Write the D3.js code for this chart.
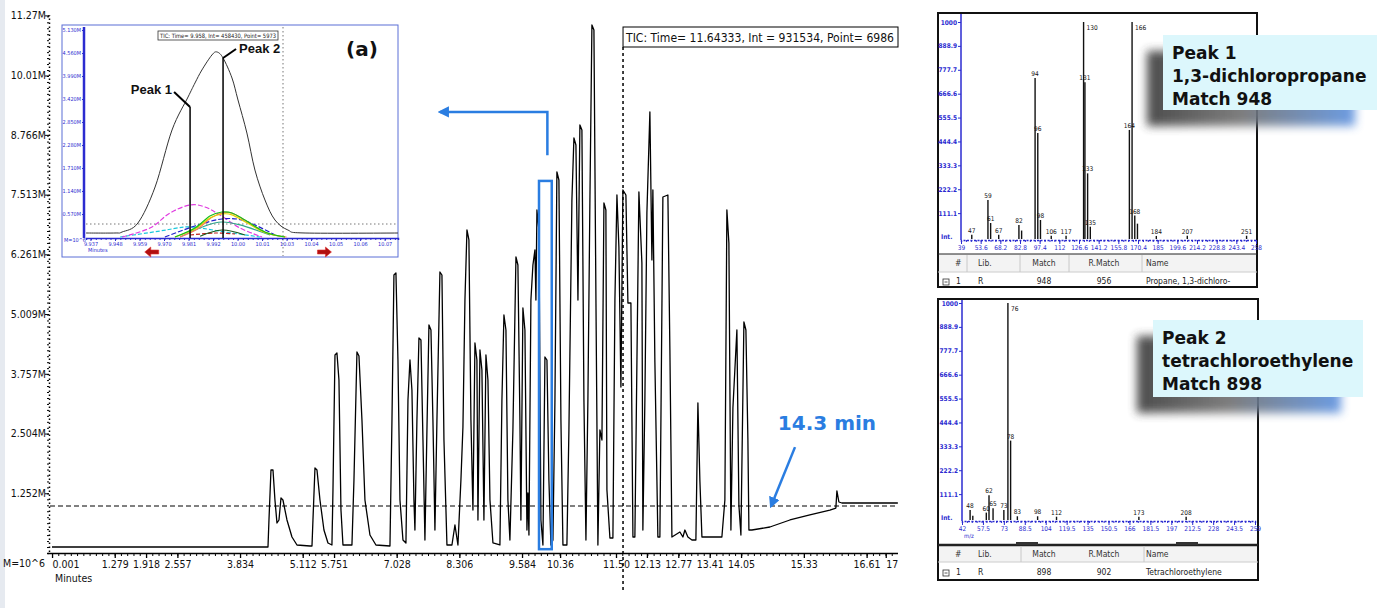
<!DOCTYPE html>
<html lang="en">
<head>
<meta charset="utf-8">
<title>GC-MS TIC with deconvoluted peaks</title>
<script src="https://d3js.org/d3.v7.min.js"></script>
<style>
  body { margin: 0; background: #fff; }
  svg { display: block; }
  .narrow { font-family: "Liberation Sans Narrow", "DejaVu Sans Condensed", "Arial Narrow", sans-serif; }
  .tiny { font-family: "DejaVu Sans Condensed", "DejaVu Sans", sans-serif; }
  .bold { font-family: "DejaVu Sans", Verdana, sans-serif; font-weight: bold; }
</style>
</head>
<body>
<svg width="1377" height="608"></svg>
<script>

// ---------------- main chromatogram data ----------------
var yTickLabels = ["1.252M", "2.504M", "3.757M", "5.009M", "6.261M", "7.513M", "8.766M", "10.01M", "11.27M"];
var xTickLabels = ["0.001", "1.279", "1.918", "2.557", "3.834", "5.112", "5.751", "7.028", "8.306", "9.584",
                   "10.36", "11.50", "12.13", "12.77", "13.41", "14.05", "15.33", "16.61", "17"];

// TIC trace, [minutes, intensity in M]
var tic = [
  [0,0.126],[4.404,0.126],
  [4.424,0.692],[4.465,1.740],[4.506,1.740],[4.546,1.111],[4.587,0.629],[4.628,0.692],[4.669,1.153],[4.709,1.111],[4.791,0.692],[4.893,0.335],[4.995,0.168],[5.260,0.147],[5.301,0.147],
  [5.321,0.692],[5.362,1.782],[5.403,1.740],[5.464,1.111],[5.545,0.482],[5.627,0.210],[5.708,0.168],
  [5.729,1.321],[5.770,4.151],[5.810,4.193],[5.851,3.627],[5.892,0.901],[5.933,0.168],[6.116,0.168],
  [6.157,1.530],[6.218,4.214],[6.259,4.130],[6.320,2.788],[6.381,1.111],[6.483,0.377],[6.605,0.168],[6.891,0.147],
  [6.932,2.788],[6.972,5.828],[7.013,5.870],[7.054,4.046],[7.095,1.111],[7.156,0.273],[7.217,0.210],
  [7.258,3.207],[7.299,4.046],[7.339,3.417],[7.380,1.111],[7.400,0.482],[7.441,2.788],[7.482,4.507],[7.523,4.465],[7.564,2.369],[7.604,0.273],
  [7.645,2.579],[7.686,4.780],[7.727,4.675],[7.767,2.788],[7.808,0.482],[7.849,2.788],[7.910,5.891],[7.951,5.828],[7.992,2.369],[8.053,0.168],
  [8.155,0.168],[8.216,0.587],[8.277,0.168],[8.338,1.530],[8.379,2.641],[8.420,5.304],[8.461,6.772],[8.501,6.562],[8.542,2.788],[8.583,0.901],
  [8.624,4.402],[8.664,4.046],[8.685,0.692],[8.726,4.256],[8.766,3.836],[8.807,0.692],[8.848,4.151],[8.889,3.627],[8.930,1.111],[8.991,0.210],[9.133,0.168],
  [9.174,3.207],[9.215,4.989],[9.256,4.675],[9.296,1.111],[9.337,0.273],[9.398,2.579],[9.460,6.205],[9.500,6.038],[9.541,2.788],[9.561,0.692],
  [9.602,5.136],[9.643,4.675],[9.684,0.482],[9.704,1.258],[9.725,0.377],[9.765,5.304],[9.806,6.038],[9.847,6.352],[9.867,5.304],[9.888,7.191],
  [9.928,6.772],[9.969,0.692],[10.010,0.168],
  [10.051,4.109],[10.092,4.046],[10.132,1.530],[10.173,0.168],[10.214,0.273],[10.255,3.207],[10.295,7.987],[10.336,7.820],[10.377,2.788],[10.418,0.168],
  [10.499,0.168],[10.540,2.579],[10.601,7.400],[10.642,8.700],[10.683,8.553],[10.724,5.304],[10.764,8.973],[10.805,8.868],[10.846,3.207],[10.887,0.273],
  [10.927,3.207],[10.968,7.400],[11.009,11.069],[11.050,10.964],[11.091,5.304],[11.131,0.168],[11.172,2.579],[11.213,2.369],[11.254,7.337],[11.294,7.191],
  [11.315,1.321],[11.376,0.314],[11.437,0.314],
  [11.478,5.304],[11.519,7.505],[11.559,6.415],[11.600,3.480],[11.641,7.610],[11.702,7.505],[11.743,5.241],[11.804,5.241],[11.845,0.335],[11.885,0.335],
  [11.967,7.568],[12.028,6.080],[12.048,0.482],[12.089,3.207],[12.130,7.128],[12.191,9.245],[12.232,6.143],[12.252,7.610],[12.293,4.0],[12.354,0.335],
  [12.395,0.335],[12.456,7.463],[12.558,7.505],[12.599,4.256],[12.640,0.335],[12.803,0.440],[12.864,0.335],[12.905,0.482],[12.966,0.335],[13.048,0.273],
  [13.129,0.273],[13.170,3.145],[13.211,1.5],[13.252,0.335],[13.659,0.335],[13.720,1.111],[13.761,7.191],[13.802,6.5],[13.843,0.482],[13.884,3.040],
  [13.965,4.675],[14.006,1.0],[14.047,0.377],[14.108,4.843],[14.149,4.675],[14.189,2.411],[14.210,0.482],[14.271,0.482],
  [14.638,0.545],[15.046,0.692],[15.453,0.797],[15.861,0.901],[15.983,0.943],[16.004,1.300],[16.045,1.069],[16.106,1.048],[17.247,1.048]
];
var thresholdM = 0.985;
var cursor = {time: 11.64333, intensity: 931534, point: 6986};
var zoomWindow = [9.93, 10.19, 0.08, 7.8];   // t0, t1, low, high
var endTime = 14.3;

// ---------------- inset (zoom on the boxed peak) ----------------
var insetXTicks = [9.937, 9.948, 9.959, 9.970, 9.981, 9.992, 10.003, 10.014, 10.025, 10.036, 10.047, 10.058, 10.069];
var insetYTicks = [0.570, 1.140, 1.710, 2.280, 2.850, 3.420, 3.990, 4.560, 5.130];
var insetTic = [[9.9350,0.099],[9.9480,0.099],[9.9512,0.124],[9.9583,0.347],[9.9660,1.239],[9.9736,2.652],[9.9808,3.470],
  [9.9839,3.817],[9.9870,4.139],[9.9915,4.511],[9.9938,4.585],[9.9965,4.436],[10.0005,3.941],[10.0032,3.395],[10.0072,2.577],
  [10.0108,1.660],[10.0153,0.917],[10.0198,0.421],[10.0256,0.173],[10.0333,0.099],[10.0750,0.099]];
var ionMagenta = [[9.9512,0],[9.9637,0.223],[9.9727,0.595],[9.9817,0.793],[9.9884,0.743],[9.9951,0.545],[10.0041,0.223],[10.0140,0]];
var ionGreen   = [[9.9749,0],[9.9839,0.223],[9.9906,0.520],[9.9960,0.620],[10.0005,0.595],[10.0063,0.421],[10.0153,0.124],[10.0243,0]];
var ionYellow  = [[9.9749,0],[9.9839,0.20],[9.9906,0.47],[9.9960,0.57],[10.0005,0.55],[10.0063,0.38],[10.0153,0.11],[10.0243,0]];
var ionOrange  = [[9.9772,0],[9.9850,0.20],[9.9915,0.49],[9.9965,0.60],[10.0010,0.58],[10.0070,0.39],[10.0160,0.10],[10.0250,0]];
var ionBlue    = [[9.9704,0],[9.9839,0.273],[9.9960,0.446],[10.0063,0.40],[10.0198,0.05]];
var ionCyan    = [[9.9503,0],[9.9682,0.149],[9.9794,0.248],[9.9862,0.223],[9.9974,0.124],[10.0131,0]];
var ionTeal    = [[9.9772,0],[9.9884,0.273],[9.9960,0.372],[10.0041,0.30],[10.0176,0.05]];
var ionRed     = [[9.9817,0.05],[9.9929,0.099],[10.0019,0.074]];
var ionDark    = [[9.9862,0.02],[9.9960,0.173],[10.0063,0.05]];
var insetPeaks = [{name: "Peak 1", t: 9.9817, v: 3.22}, {name: "Peak 2", t: 9.9965, v: 4.436}];
var insetCursor = {time: 9.958, intensity: 458430, point: 5973};

// ---------------- mass spectra ----------------
var specYTicks = ["111.1", "222.2", "333.3", "444.4", "555.5", "666.6", "777.7", "888.9", "1000"];
var spec1XTicks = [39, 53.6, 68.2, 82.8, 97.4, 112, 126.6, 141.2, 155.8, 170.4, 185, 199.6, 214.2, 228.8, 243.4, 258];
var spec1Peaks = [[47,10,"47"],[59,172,"59"],[61,65,"61"],[67,10,"67"],[82,56,"82"],[84,30,""],[94,740,"94"],[96,484,"96"],
  [98,79,"98"],[106,6,"106"],[117,6,"117"],[130,1000,"130"],[131,720,"131"],[133,296,"133"],[135,48,"135"],
  [164,498,"164"],[166,1000,"166"],[168,100,"168"],[170,62,""],[184,5,"184"],[207,6,"207"],[251,6,"251"]];
var spec2XTicks = [42, 57.5, 73, 88.5, 104, 119.5, 135, 150.5, 166, 181.5, 197, 212.5, 228, 243.5, 259];
var spec2Peaks = [[48,37,"48"],[50,10,""],[60,25,"60"],[62,106,"62"],[65,45,"65"],[73,37,"73"],[76,1000,"76"],[78,360,"78"],
  [83,8,"83"],[98,8,"98"],[112,6,"112"],[173,6,"173"],[208,6,"208"]];
var hitHeader = ["#", "Lib.", "Match", "R.Match", "Name"];
var hit1 = ["1", "R", "948", "956", "Propane, 1,3-dichloro-"];
var hit2 = ["1", "R", "898", "902", "Tetrachloroethylene"];
var callout1 = ["Peak 1", "1,3-dichloropropane", "Match 948"];
var callout2 = ["Peak 2", "tetrachloroethylene", "Match 898"];

// =====================================================
var svg = d3.select("svg");
var defs = svg.append("defs");
var blue = "#2a7de1", axisBlue = "#2b2bd0";

defs.append("marker").attr("id", "arrowBlue")
    .attr("viewBox", "0 0 10 10").attr("refX", 8).attr("refY", 5)
    .attr("markerWidth", 4.5).attr("markerHeight", 4.5).attr("orient", "auto-start-reverse")
  .append("path").attr("d", "M0,0 L10,5 L0,10 z").attr("fill", blue);

defs.append("filter").attr("id", "blur").attr("x", "-20%").attr("y", "-20%").attr("width", "140%").attr("height", "140%")
  .append("feGaussianBlur").attr("stdDeviation", 5);
var sg = defs.append("linearGradient").attr("id", "shadowGrad");
sg.append("stop").attr("offset", "0").attr("stop-color", "#3a3a3a");
sg.append("stop").attr("offset", "0.45").attr("stop-color", "#707070");
sg.append("stop").attr("offset", "1").attr("stop-color", "#5d92e0");

// light frame strip at the left
svg.append("rect").attr("x", 0).attr("y", 0).attr("width", 5).attr("height", 608).attr("fill", "#e6eaf0");

// ---------------- main chart ----------------
var x = d3.scaleLinear().domain([0, 17.25]).range([52, 898]);
var y = d3.scaleLinear().domain([0, 11.27]).range([553, 15.4]);
var g = svg.append("g");

// threshold dashed line
g.append("line")
    .attr("x1", 50).attr("x2", x(17.25))
    .attr("y1", y(thresholdM)).attr("y2", y(thresholdM))
    .attr("stroke", "#000").attr("stroke-width", 1).attr("stroke-dasharray", "5,3");

// x axis: minor ticks then labelled ticks
var minor = d3.range(0, 17.25, 0.12778);
g.append("g").attr("class", "narrow")
    .attr("transform", "translate(0,553)")
    .call(d3.axisBottom(x).tickValues(minor).tickSize(3).tickFormat(""))
    .call(function(a) {
      a.select(".domain").attr("stroke-width", 1.5).attr("d", "M48,0.5H898");
      a.selectAll(".tick line").attr("stroke-width", 1);
    });
var xValues = xTickLabels.map(Number);
g.append("g").attr("class", "narrow")
    .attr("transform", "translate(0,553)")
    .call(d3.axisBottom(x).tickValues(xValues).tickSize(5).tickPadding(3)
            .tickFormat(function(d, i) { return xTickLabels[i]; }))
    .call(function(a) {
      a.select(".domain").remove();
      a.selectAll(".tick line").attr("stroke-width", 1.3);
      var txt = a.selectAll(".tick text").attr("font-size", 10.5).attr("fill", "#111")
        .attr("font-family", "'Liberation Sans Narrow','DejaVu Sans Condensed',sans-serif");
      a.select(".tick text").attr("text-anchor", "start");
      d3.select(txt.nodes()[txt.size() - 1]).attr("text-anchor", "start");
    });

// y axis
var yValues = yTickLabels.map(function(s) { return parseFloat(s); });
g.append("g")
    .attr("transform", "translate(49,0)")
    .call(d3.axisLeft(y).tickValues(d3.range(0, 11.3, 0.125)).tickSize(2).tickFormat(""))
    .call(function(a) {
      a.select(".domain").attr("stroke-dasharray", "1.5,2.5").attr("stroke-width", 1.5);
    });
g.append("g")
    .attr("transform", "translate(49,0)")
    .call(d3.axisLeft(y).tickValues(yValues).tickSize(4).tickPadding(-1)
            .tickFormat(function(d, i) { return yTickLabels[i]; }))
    .call(function(a) {
      a.select(".domain").remove();
      a.selectAll(".tick text").attr("font-size", 10.5).attr("fill", "#111")
        .attr("font-family", "'Liberation Sans Narrow','DejaVu Sans Condensed',sans-serif");
    });
g.append("text").attr("class", "narrow").attr("x", 3).attr("y", 567)
    .attr("font-size", 10.5).attr("fill", "#111").text("M=10^6");
g.append("text").attr("class", "narrow").attr("x", 55).attr("y", 582)
    .attr("font-size", 10.5).attr("fill", "#111").text("Minutes");

// TIC trace
var line = d3.line().x(function(d) { return x(d[0]); }).y(function(d) { return y(d[1]); });
g.append("path").datum(tic)
    .attr("d", line).attr("fill", "none")
    .attr("stroke", "#000").attr("stroke-width", 1.3).attr("stroke-linejoin", "round");

// cursor + readout
var cx = x(cursor.time);
g.append("line").attr("x1", cx).attr("x2", cx).attr("y1", 47).attr("y2", 592)
    .attr("stroke", "#000").attr("stroke-width", 1.5).attr("stroke-dasharray", "3,3");
g.append("rect").attr("x", cx).attr("y", 27).attr("width", 898 - cx).attr("height", 20)
    .attr("fill", "#fff").attr("stroke", "#000").attr("stroke-width", 1);
g.append("text").attr("class", "narrow").attr("x", cx + 3).attr("y", 42)
    .attr("font-size", 13).attr("fill", "#111")
    .attr("textLength", 268).attr("lengthAdjust", "spacingAndGlyphs")
    .text("TIC: Time= " + cursor.time + ", Int = " + cursor.intensity + ", Point= " + cursor.point);

// zoom window box and arrow to inset
var zx0 = x(zoomWindow[0]), zx1 = x(zoomWindow[1]);
g.append("rect").attr("x", zx0).attr("y", y(zoomWindow[3]))
    .attr("width", zx1 - zx0).attr("height", y(zoomWindow[2]) - y(zoomWindow[3]))
    .attr("fill", "none").attr("stroke", blue).attr("stroke-width", 2.5);
var zm = (zx0 + zx1) / 2 + 2;
g.append("path")
    .attr("d", "M" + zm + "," + y(8.34) + "V" + y(9.245) + "H" + x(7.91))
    .attr("fill", "none").attr("stroke", blue).attr("stroke-width", 2.5)
    .attr("marker-end", "url(#arrowBlue)");

// 14.3 min annotation
g.append("text").attr("class", "bold").attr("x", x(14.8)).attr("y", y(2.58))
    .attr("font-size", 20).attr("fill", blue).text(endTime + " min");
g.append("line").attr("x1", x(15.15)).attr("y1", y(2.22)).attr("x2", x(14.66)).attr("y2", y(0.98))
    .attr("stroke", blue).attr("stroke-width", 2.5).attr("marker-end", "url(#arrowBlue)");

// ---------------- inset ----------------
var ix = d3.scaleLinear().domain([9.935, 10.075]).range([86, 398]);
var iy = d3.scaleLinear().domain([0, 5.13]).range([237, 30]);
var ig = svg.append("g");
ig.append("rect").attr("x", 62).attr("y", 25).attr("width", 336).attr("height", 232)
    .attr("fill", "#fff").attr("stroke", "#5b6fd6").attr("stroke-width", 1);
ig.append("line").attr("x1", 86).attr("x2", 398).attr("y1", iy(0.322)).attr("y2", iy(0.322))
    .attr("stroke", "#777").attr("stroke-width", 1).attr("stroke-dasharray", "1.5,2.5");
ig.append("line").attr("x1", ix(10.0234)).attr("x2", ix(10.0234)).attr("y1", 27).attr("y2", 256)
    .attr("stroke", "#777").attr("stroke-width", 1).attr("stroke-dasharray", "1.5,2.5");

ig.append("g").attr("transform", "translate(0,238)")
    .call(d3.axisBottom(ix).tickValues(d3.range(9.935, 10.075, 0.0022)).tickSize(2).tickFormat(""))
    .call(function(a) { a.selectAll("path,line").attr("stroke", axisBlue); a.select(".domain").attr("stroke-width", 1.5); });
ig.append("g").attr("transform", "translate(0,238)")
    .call(d3.axisBottom(ix).tickValues(insetXTicks).tickSize(3).tickPadding(1).tickFormat(d3.format(".4r")))
    .call(function(a) {
      a.select(".domain").remove();
      a.selectAll("line").attr("stroke", axisBlue);
      a.selectAll("text").attr("font-size", 5.5).attr("fill", axisBlue).attr("font-family", "DejaVu Sans Condensed, sans-serif");
    });
ig.append("g").attr("transform", "translate(84,0)")
    .call(d3.axisLeft(iy).tickValues(insetYTicks).tickSize(2).tickPadding(1).tickFormat(function(d) { return d3.format(".3f")(d) + "M"; }))
    .call(function(a) {
      a.select(".domain").attr("stroke", axisBlue).attr("stroke-width", 2.5).attr("d", "M0,27V238");
      a.selectAll("line").attr("stroke", axisBlue);
      a.selectAll("text").attr("font-size", 5.5).attr("fill", axisBlue).attr("font-family", "DejaVu Sans Condensed, sans-serif");
    });
ig.append("text").attr("x", 64).attr("y", 242).attr("font-size", 5.5).attr("fill", axisBlue)
    .attr("class", "tiny").text("M=10^6");
ig.append("text").attr("x", 88).attr("y", 252).attr("font-size", 5.5).attr("fill", axisBlue)
    .attr("class", "tiny").text("Minutes");

var icurve = d3.line().curve(d3.curveCardinal).x(function(d) { return ix(d[0]); }).y(function(d) { return iy(d[1]); });
var ions = [
  {d: ionCyan, c: "#18c8dc", dash: "4,2"}, {d: ionMagenta, c: "#e03ce0", dash: "5,2"},
  {d: ionTeal, c: "#2fa58a", dash: null}, {d: ionBlue, c: "#2020c8", dash: "5,2"},
  {d: ionOrange, c: "#ff7a5a", dash: null}, {d: ionYellow, c: "#e2d400", dash: null},
  {d: ionGreen, c: "#18c018", dash: null}, {d: ionRed, c: "#c02020", dash: "4,2"},
  {d: ionDark, c: "#1a5a1a", dash: null}
];
ions.forEach(function(s) {
  ig.append("path").datum(s.d).attr("d", icurve).attr("fill", "none")
    .attr("stroke", s.c).attr("stroke-width", 1.2).attr("stroke-dasharray", s.dash);
});
ig.append("path").datum(insetTic).attr("d", icurve).attr("fill", "none")
    .attr("stroke", "#333").attr("stroke-width", 1);

// peak markers
insetPeaks.forEach(function(p) {
  ig.append("line").attr("x1", ix(p.t)).attr("x2", ix(p.t)).attr("y1", iy(p.v)).attr("y2", 238)
    .attr("stroke", "#000").attr("stroke-width", 1.5);
});
var p1 = insetPeaks[0], p2 = insetPeaks[1];
ig.append("line").attr("x1", ix(p1.t)).attr("y1", iy(p1.v)).attr("x2", ix(p1.t) - 16).attr("y2", iy(p1.v) - 15)
    .attr("stroke", "#000").attr("stroke-width", 2);
ig.append("text").attr("x", ix(p1.t) - 18).attr("y", iy(p1.v) - 13).attr("text-anchor", "end")
    .attr("font-family", "'Liberation Sans', Arial, sans-serif").attr("font-weight", "bold")
    .attr("font-size", 13).attr("fill", "#111").text(p1.name);
ig.append("line").attr("x1", ix(p2.t)).attr("y1", iy(p2.v)).attr("x2", ix(p2.t) + 13).attr("y2", iy(p2.v) - 9)
    .attr("stroke", "#000").attr("stroke-width", 2);
ig.append("text").attr("x", ix(p2.t) + 16).attr("y", iy(p2.v) - 5)
    .attr("font-family", "'Liberation Sans', Arial, sans-serif").attr("font-weight", "bold")
    .attr("font-size", 13).attr("fill", "#111").text(p2.name);

// inset readout
ig.append("rect").attr("x", 158).attr("y", 31).attr("width", 120).attr("height", 9)
    .attr("fill", "#fff").attr("stroke", "#333").attr("stroke-width", 0.8);
ig.append("text").attr("class", "tiny").attr("x", 160).attr("y", 38).attr("font-size", 6)
    .attr("textLength", 116).attr("lengthAdjust", "spacingAndGlyphs").attr("fill", "#222")
    .text("TIC: Time= " + insetCursor.time + ", Int= " + insetCursor.intensity + ", Point= " + insetCursor.point);

// (a)
ig.append("text").attr("class", "bold").attr("x", 346).attr("y", 56).attr("font-size", 20)
    .attr("fill", "#111").text("(a)");

// red scroll arrows
[[ix(9.9645), -1], [ix(10.0420), 1]].forEach(function(a) {
  var ax = a[0], s = a[1];
  ig.append("path")
    .attr("d", "M" + (ax - 7 * s) + ",250h" + (8 * s) + "v-3l" + (6 * s) + ",5l" + (-6 * s) + ",5v-3h" + (-8 * s) + "z")
    .attr("fill", "#b01010").attr("stroke", "#e03030").attr("stroke-width", 0.6);
});

// ---------------- spectra panels ----------------
function drawSpectrum(cfg) {
  var p = svg.append("g");
  var sx = d3.scaleLinear().domain(cfg.xDomain).range(cfg.xRange);
  var sy = d3.scaleLinear().domain([0, 1000]).range([cfg.axisY - 3, cfg.top]);
  p.append("rect").attr("x", cfg.frame[0]).attr("y", cfg.frame[1])
    .attr("width", cfg.frame[2] - cfg.frame[0]).attr("height", cfg.frame[3] - cfg.frame[1])
    .attr("fill", "#fff").attr("stroke", "#111").attr("stroke-width", 2);

  // x axis
  p.append("g").attr("transform", "translate(0," + cfg.axisY + ")")
    .call(d3.axisBottom(sx).tickValues(d3.range(cfg.xDomain[0], cfg.xDomain[1], (cfg.xDomain[1] - cfg.xDomain[0]) / 60))
      .tickSize(2).tickFormat(""))
    .call(function(a) {
      a.selectAll("path,line").attr("stroke", axisBlue);
      a.select(".domain").attr("stroke-width", 1.5).attr("stroke-dasharray", "2,1.5");
    });
  p.append("g").attr("transform", "translate(0," + cfg.axisY + ")")
    .call(d3.axisBottom(sx).tickValues(cfg.xTicks).tickSize(4).tickPadding(1).tickFormat(function(d) { return d; }))
    .call(function(a) {
      a.select(".domain").remove();
      a.selectAll("line").attr("stroke", axisBlue);
      a.selectAll("text").attr("font-size", 6.5).attr("fill", axisBlue).attr("font-family", "DejaVu Sans Condensed, sans-serif");
    });
  // y axis
  var yv = specYTicks.map(Number);
  p.append("g").attr("transform", "translate(" + cfg.xRange[0] + ",0)")
    .call(d3.axisLeft(sy).tickValues(yv).tickSize(3).tickPadding(1).tickFormat(function(d, i) { return specYTicks[i]; }))
    .call(function(a) {
      a.select(".domain").attr("stroke", axisBlue).attr("stroke-width", 1.5)
        .attr("d", "M0," + (cfg.frame[1] + 1) + "V" + cfg.axisY);
      a.selectAll("line").attr("stroke", axisBlue);
      a.selectAll("text").attr("font-size", 6.5).attr("fill", axisBlue).attr("font-weight", "bold")
        .attr("font-family", "DejaVu Sans Condensed, sans-serif");
    });
  p.append("text").attr("x", cfg.frame[0] + 3).attr("y", cfg.axisY - 1).attr("font-size", 6.5)
    .attr("fill", axisBlue).attr("font-weight", "bold").attr("class", "tiny").text("Int.");
  if (cfg.unit) {
    p.append("text").attr("x", cfg.xRange[0] + 2).attr("y", cfg.axisY + 17).attr("font-size", 6)
      .attr("fill", axisBlue).attr("class", "tiny").text(cfg.unit);
  }

  // bars
  p.selectAll(".bar").data(cfg.peaks).enter().append("line")
    .attr("x1", function(d) { return sx(d[0]); }).attr("x2", function(d) { return sx(d[0]); })
    .attr("y1", cfg.axisY - 1).attr("y2", function(d) { return sy(d[1]); })
    .attr("stroke", "#111").attr("stroke-width", 1.4);
  p.selectAll(".lbl").data(cfg.peaks.filter(function(d) { return d[2]; })).enter().append("text")
    .attr("class", "tiny")
    .attr("x", function(d) { return sx(d[0]) + (d[1] > 950 ? 3 : 0); })
    .attr("y", function(d) { return d[1] > 950 ? sy(d[1]) + 8 : sy(d[1]) - 2; })
    .attr("text-anchor", function(d) { return d[1] > 950 ? "start" : "middle"; })
    .attr("font-size", 6.5).attr("fill", "#111").text(function(d) { return d[2]; });

  // hit table
  var t = cfg.table;
  p.append("rect").attr("x", cfg.frame[0] + 1).attr("y", t.top).attr("width", cfg.frame[2] - cfg.frame[0] - 2)
    .attr("height", t.mid - t.top).attr("fill", "#f3f3f3");
  p.append("line").attr("x1", cfg.frame[0]).attr("x2", cfg.frame[2]).attr("y1", t.top).attr("y2", t.top)
    .attr("stroke", "#222").attr("stroke-width", t.thick);
  p.append("line").attr("x1", cfg.frame[0]).attr("x2", cfg.frame[2]).attr("y1", t.mid).attr("y2", t.mid)
    .attr("stroke", "#ccc").attr("stroke-width", 1);
  t.seps.forEach(function(sxp) {
    p.append("line").attr("x1", sxp).attr("x2", sxp).attr("y1", t.top + 1).attr("y2", t.mid)
      .attr("stroke", "#c8c8c8").attr("stroke-width", 1);
  });
  var cols = t.cols;
  hitHeader.forEach(function(h, i) {
    p.append("text").attr("class", "tiny").attr("x", cols[i][0]).attr("y", t.headY)
      .attr("text-anchor", cols[i][1]).attr("font-size", 8.5).attr("fill", "#333").text(h);
  });
  cfg.hit.forEach(function(h, i) {
    p.append("text").attr("class", "tiny").attr("x", cols[i][0] + (i === 0 ? 1 : 0)).attr("y", t.rowY)
      .attr("text-anchor", cols[i][1]).attr("font-size", 8.5).attr("fill", "#222").text(h);
  });
  p.append("rect").attr("x", cfg.frame[0] + 5).attr("y", t.rowY - 5).attr("width", 6).attr("height", 6)
    .attr("fill", "none").attr("stroke", "#333").attr("stroke-width", 0.8);
  p.append("line").attr("x1", cfg.frame[0] + 6.5).attr("x2", cfg.frame[0] + 9.5).attr("y1", t.rowY - 2).attr("y2", t.rowY - 2)
    .attr("stroke", "#333").attr("stroke-width", 0.8);
  if (t.thumbs) {
    t.thumbs.forEach(function(th) {
      p.append("rect").attr("x", th[0]).attr("y", t.top - 3).attr("width", th[1] - th[0]).attr("height", 3).attr("fill", "#333");
    });
  }
}

var tableCols = [[955, "start"], [978, "start"], [1044, "middle"], [1104, "middle"], [1146, "start"]];
drawSpectrum({
  frame: [938, 13, 1257, 287], xDomain: [39, 258], xRange: [961, 1256], axisY: 240, top: 22,
  xTicks: spec1XTicks, peaks: spec1Peaks, hit: hit1,
  table: {top: 254, mid: 272, headY: 266, rowY: 284, thick: 1, seps: [967, 1020, 1069, 1142], cols: tableCols}
});
drawSpectrum({
  frame: [938, 299, 1258, 580], xDomain: [42, 259], xRange: [962, 1255], axisY: 521, top: 303,
  xTicks: spec2XTicks, peaks: spec2Peaks, hit: hit2, unit: "m/z",
  table: {top: 545, mid: 562, headY: 557, rowY: 575, thick: 2.5, seps: [1021, 1144], cols: tableCols,
          thumbs: [[1016, 1038], [1176, 1198]]}
});

// ---------------- callout boxes ----------------
function callout(lines, bx, by, bw, bh) {
  var c = svg.append("g");
  c.append("rect").attr("x", bx - 16).attr("y", by + 16).attr("width", bw - 6).attr("height", bh)
    .attr("fill", "url(#shadowGrad)").attr("filter", "url(#blur)").attr("opacity", 0.9);
  c.append("rect").attr("x", bx).attr("y", by).attr("width", bw).attr("height", bh)
    .attr("fill", "#dcf7fc");
  lines.forEach(function(l, i) {
    c.append("text").attr("class", "bold").attr("x", bx + 9).attr("y", by + 24 + i * 23)
      .attr("font-size", 17).attr("fill", "#111").text(l);
  });
}
callout(callout1, 1163, 35, 214, 75);
callout(callout2, 1153, 320, 210, 77);

</script>
</body>
</html>
